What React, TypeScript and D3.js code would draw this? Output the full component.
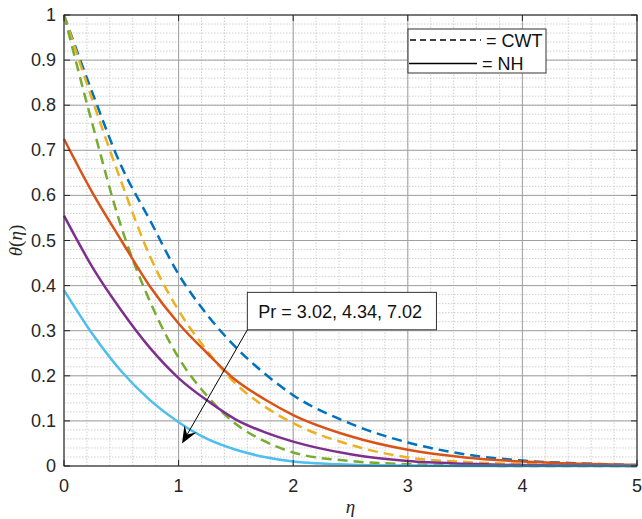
import React from 'react';
import * as d3 from 'd3';

const eta = [0, 0.25, 0.5, 0.75, 1, 1.25, 1.5, 1.75, 2, 2.5, 3, 3.5, 4, 4.5, 5];

// CWT (dashed)
const cwtPr302 = [1.0, 0.826, 0.665, 0.545, 0.425, 0.335, 0.263, 0.205, 0.157, 0.094, 0.052, 0.026, 0.012, 0.006, 0.002];
const cwtPr434 = [1.0, 0.81, 0.63, 0.465, 0.345, 0.255, 0.182, 0.132, 0.095, 0.047, 0.019, 0.009, 0.004, 0.002, 0.001];
const cwtPr702 = [1.0, 0.756, 0.53, 0.365, 0.24, 0.155, 0.093, 0.055, 0.03, 0.011, 0.004, 0.001, 0.0, 0.0, 0.0];

// NH (solid)
const nhPr302 = [0.725, 0.605, 0.5, 0.398, 0.316, 0.25, 0.19, 0.148, 0.113, 0.066, 0.036, 0.019, 0.01, 0.005, 0.002];
const nhPr434 = [0.555, 0.44, 0.345, 0.262, 0.195, 0.145, 0.103, 0.075, 0.054, 0.026, 0.011, 0.005, 0.002, 0.001, 0.0];
const nhPr702 = [0.39, 0.292, 0.21, 0.146, 0.097, 0.06, 0.036, 0.02, 0.01, 0.003, 0.001, 0.0, 0.0, 0.0, 0.0];

const xTicks = [0, 1, 2, 3, 4, 5];
const yTicks = [0, 0.1, 0.2, 0.3, 0.4, 0.5, 0.6, 0.7, 0.8, 0.9, 1];

const series = [
  { values: cwtPr302, color: '#0072BD', dashed: true },
  { values: cwtPr434, color: '#EDB120', dashed: true },
  { values: cwtPr702, color: '#77AC30', dashed: true },
  { values: nhPr302, color: '#D95319', dashed: false },
  { values: nhPr434, color: '#7E2F8E', dashed: false },
  { values: nhPr702, color: '#4DBEEE', dashed: false },
];

const W = 642;
const H = 519;
const margin = { top: 15, right: 5, bottom: 53, left: 64 };

export default function App() {
  const x = d3.scaleLinear().domain([0, 5]).range([margin.left, W - margin.right]);
  const y = d3.scaleLinear().domain([0, 1]).range([H - margin.bottom, margin.top]);

  const line = d3
    .line<number>()
    .x((_, i) => x(eta[i]))
    .y((d) => y(d))
    .curve(d3.curveMonotoneX);

  const minorX = d3.range(0, 5.0001, 0.2);
  const minorY = d3.range(0, 1.0001, 0.02);

  const font = '"Liberation Sans", Arial, sans-serif';
  const axisColor = '#262626';

  // annotation arrow
  const ax0 = x(1.6), ay0 = y(0.302);
  const ax1 = x(1.03), ay1 = y(0.05);
  const ang = Math.atan2(ay1 - ay0, ax1 - ax0);
  const hl = 17, hw = 7;
  const bx = ax1 - hl * Math.cos(ang), by = ay1 - hl * Math.sin(ang);
  const nx = ax1 - hl * 0.6 * Math.cos(ang), ny = ay1 - hl * 0.6 * Math.sin(ang);
  const px = -Math.sin(ang), py = Math.cos(ang);
  const head = `M${ax1},${ay1} L${bx + px * hw},${by + py * hw} L${nx},${ny} L${bx - px * hw},${by - py * hw} Z`;

  return (
    <svg width={W} height={H} style={{ position: 'absolute', left: 0, top: 0, background: '#fff' }}>
      <rect x={0} y={0} width={W} height={H} fill="#fff" />
      {/* minor grid */}
      <g stroke="#c4c4c4" strokeWidth={0.8} strokeDasharray="1.5,1.5">
        {minorX.map((v, i) => (
          <line key={`mx${i}`} x1={x(v)} x2={x(v)} y1={y(0)} y2={y(1)} />
        ))}
        {minorY.map((v, i) => (
          <line key={`my${i}`} x1={x(0)} x2={x(5)} y1={y(v)} y2={y(v)} />
        ))}
      </g>
      {/* major grid */}
      <g stroke="#a0a0a0" strokeWidth={1}>
        {xTicks.map((v) => (
          <line key={`gx${v}`} x1={x(v)} x2={x(v)} y1={y(0)} y2={y(1)} />
        ))}
        {yTicks.map((v) => (
          <line key={`gy${v}`} x1={x(0)} x2={x(5)} y1={y(v)} y2={y(v)} />
        ))}
      </g>
      {/* curves */}
      <g fill="none" strokeWidth={2.5}>
        {series.map((s, i) => (
          <path
            key={i}
            d={line(s.values) || ''}
            stroke={s.color}
            strokeDasharray={s.dashed ? '10,6' : undefined}
          />
        ))}
      </g>
      {/* axes box */}
      <rect
        x={x(0)}
        y={y(1)}
        width={x(5) - x(0)}
        height={y(0) - y(1)}
        fill="none"
        stroke={axisColor}
        strokeWidth={1}
      />
      <g stroke={axisColor} strokeWidth={1}>
        {xTicks.map((v) => (
          <g key={`tx${v}`}>
            <line x1={x(v)} x2={x(v)} y1={y(0)} y2={y(0) - 6} />
            <line x1={x(v)} x2={x(v)} y1={y(1)} y2={y(1) + 6} />
          </g>
        ))}
        {yTicks.map((v) => (
          <g key={`ty${v}`}>
            <line x1={x(0)} x2={x(0) + 6} y1={y(v)} y2={y(v)} />
            <line x1={x(5)} x2={x(5) - 6} y1={y(v)} y2={y(v)} />
          </g>
        ))}
      </g>
      {/* tick labels */}
      <g fontFamily={font} fontSize={18} fill="#262626">
        {xTicks.map((v) => (
          <text key={`lx${v}`} x={x(v)} y={y(0) + 26} textAnchor="middle">
            {v}
          </text>
        ))}
        {yTicks.map((v) => (
          <text key={`ly${v}`} x={x(0) - 8} y={y(v) + 6} textAnchor="end">
            {d3.format('~g')(v)}
          </text>
        ))}
      </g>
      {/* axis labels */}
      <text
        x={(x(0) + x(5)) / 2}
        y={H - 6}
        textAnchor="middle"
        fontFamily='"Liberation Serif", "Times New Roman", serif'
        fontStyle="italic"
        fontSize={19}
        fill="#262626"
      >
        η
      </text>
      <text
        transform={`translate(22, ${(y(0) + y(1)) / 2}) rotate(-90)`}
        textAnchor="middle"
        fontFamily='"Liberation Serif", "Times New Roman", serif'
        fontSize={19}
        fill="#262626"
      >
        <tspan fontStyle="italic">θ</tspan>
        <tspan>(</tspan>
        <tspan fontStyle="italic">η</tspan>
        <tspan>)</tspan>
      </text>
      {/* legend */}
      <g fontFamily={font} fontSize={18} fill="#111">
        <rect x={408} y={29} width={138} height={44} fill="#fff" stroke="#333" strokeWidth={1} />
        <line x1={410} x2={481} y1={40} y2={40} stroke="#000" strokeWidth={1.5} strokeDasharray="6,4" />
        <text x={486} y={46.5}>= CWT</text>
        <line x1={409} x2={477} y1={63.5} y2={63.5} stroke="#000" strokeWidth={1.5} />
        <text x={482} y={70}>= NH</text>
      </g>
      {/* annotation */}
      <line x1={ax0} y1={ay0} x2={nx} y2={ny} stroke="#000" strokeWidth={1} />
      <path d={head} fill="#000" />
      <rect x={x(1.6)} y={y(0.385)} width={x(3.25) - x(1.6)} height={y(0.302) - y(0.385)} fill="#fff" stroke="#333" strokeWidth={1} />
      <text x={x(1.6) + 11} y={y(0.3435) + 6.5} fontFamily={font} fontSize={18} fill="#111">
        Pr = 3.02, 4.34, 7.02
      </text>
    </svg>
  );
}
